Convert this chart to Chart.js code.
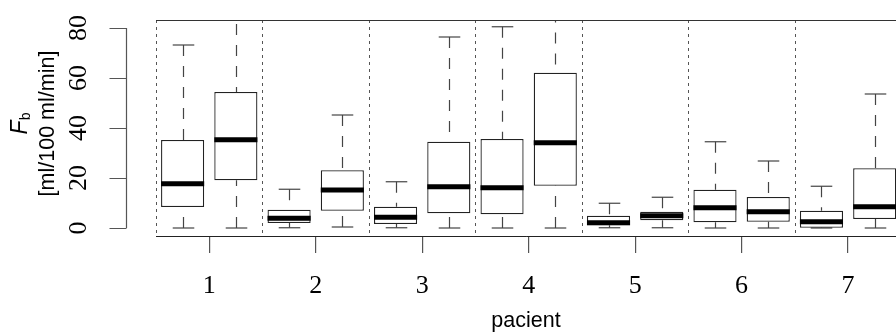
<!DOCTYPE html>
<html lang="en">
<head>
<meta charset="UTF-8">
<title>Fb podle pacienta</title>
<script src="https://cdn.jsdelivr.net/npm/chart.js"></script>
<style>
    html, body { margin: 0; padding: 0; background: #fff; overflow: hidden; }
</style>
</head>
<body>
<canvas id="fbChart" width="896" height="332"></canvas>
<script>
// two boxplots per patient, values in ml/100 ml/min
const patients    = ['1', '2', '3', '4', '5', '6', '7'];
const whiskerLow  = [0,    0,     0.1, 0.4,   0.1, 0,     0,    0,     0.1, 0.1,  0,    0,     0,    0];
const quartile1   = [8.4,  19.1,  2.0, 6.9,   1.6, 5.9,   5.5,  16.9,  1.1, 3.1,  2.3,  2.5,   0.1,  3.6];
const medians     = [17.7, 35.3,  3.9, 15.2,  4.3, 16.5,  16.1, 34.1,  2.1, 4.9,  8.1,  6.5,   2.5,  8.5];
const quartile3   = [35.2, 54.4,  7.3, 23.1,  8.5, 34.5,  35.6, 62.1,  4.9, 6.5,  15.3, 12.4,  6.9,  23.9];
const whiskerHigh = [73.2, 90,    15.5, 45.2, 18.5, 76.4, 80.5, 95,    9.9, 12.3, 34.5, 26.8,  16.7, 53.6];
const yTicks = [0, 20, 40, 60, 80];

const serif = '"Liberation Serif", "DejaVu Serif", serif';

// box i sits in the left or right half of its patient's slot
const boxData = quartile1.map((q1, i) => ({
    x: Math.floor(i / 2) + (i % 2 ? 0.75 : 0.25),
    y: [q1, quartile3[i]]
}));

const boxExtras = {
    id: 'boxExtras',
    beforeDatasetsDraw(chart) {
        const { ctx, chartArea: a, scales: { x, y } } = chart;
        ctx.save();
        // dotted separators between patients
        ctx.strokeStyle = '#555';
        ctx.lineWidth = 1;
        ctx.setLineDash([3, 4]);
        patients.forEach((p, k) => {
            const px = Math.round(x.getPixelForValue(k)) + 0.5;
            ctx.beginPath();
            ctx.moveTo(px, a.top);
            ctx.lineTo(px, a.bottom);
            ctx.stroke();
        });
        // whiskers, clipped to the plot
        ctx.beginPath();
        ctx.rect(a.left, a.top, a.right - a.left, a.bottom - a.top);
        ctx.clip();
        ctx.strokeStyle = '#444';
        ctx.lineWidth = 1.2;
        chart.getDatasetMeta(0).data.forEach((bar, i) => {
            const cx = Math.round(bar.x) + 0.5;
            const half = bar.width / 4;
            [[whiskerHigh[i], quartile3[i]], [whiskerLow[i], quartile1[i]]].forEach(([end, edge]) => {
                const yEnd = y.getPixelForValue(end);
                const yEdge = y.getPixelForValue(edge);
                ctx.setLineDash([11, 10]);
                ctx.beginPath();
                ctx.moveTo(cx, yEnd);
                ctx.lineTo(cx, yEdge);
                ctx.stroke();
                ctx.setLineDash([]);
                ctx.beginPath();
                ctx.moveTo(cx - half, yEnd);
                ctx.lineTo(cx + half, yEnd);
                ctx.stroke();
            });
        });
        ctx.restore();
    },
    afterDatasetsDraw(chart) {
        const { ctx, chartArea: a, scales: { y } } = chart;
        ctx.save();
        ctx.fillStyle = '#000';
        chart.getDatasetMeta(0).data.forEach((bar, i) => {
            const py = y.getPixelForValue(medians[i]);
            ctx.fillRect(bar.x - bar.width / 2, py - 2.5, bar.width, 5);
        });
        // top frame line
        ctx.strokeStyle = '#333';
        ctx.lineWidth = 1;
        ctx.beginPath();
        ctx.moveTo(a.left, a.top + 0.5);
        ctx.lineTo(a.right, a.top + 0.5);
        ctx.stroke();
        ctx.restore();
    },
    afterDraw(chart) {
        const { ctx, chartArea: a, scales: { y } } = chart;
        const axisX = a.left - 29.5;
        ctx.save();
        // y axis drawn away from the plot, R style
        ctx.strokeStyle = '#555';
        ctx.lineWidth = 1.2;
        ctx.beginPath();
        ctx.moveTo(axisX, y.getPixelForValue(yTicks[0]));
        ctx.lineTo(axisX, y.getPixelForValue(yTicks[yTicks.length - 1]));
        yTicks.forEach(v => {
            const py = Math.round(y.getPixelForValue(v)) + 0.5;
            ctx.moveTo(axisX, py);
            ctx.lineTo(axisX - 17, py);
        });
        ctx.stroke();

        ctx.fillStyle = '#000';
        ctx.textAlign = 'center';
        ctx.textBaseline = 'alphabetic';
        ctx.font = '26px ' + serif;
        yTicks.forEach(v => {
            ctx.save();
            ctx.translate(axisX - 41, y.getPixelForValue(v));
            ctx.rotate(-Math.PI / 2);
            ctx.fillText(String(v), 0, 0);
            ctx.restore();
        });

        // axis title: F_b [ml/100 ml/min]
        const midY = (y.getPixelForValue(0) + y.getPixelForValue(80)) / 2 - 4.5;
        ctx.save();
        ctx.translate(54, midY);
        ctx.rotate(-Math.PI / 2);
        ctx.font = '21.5px "Liberation Sans", Arial, sans-serif';
        ctx.fillText('[ml/100 ml/min]', 0, 0);
        ctx.restore();

        ctx.save();
        ctx.translate(26.5, midY);
        ctx.rotate(-Math.PI / 2);
        ctx.textAlign = 'left';
        ctx.font = 'italic 23px "Liberation Sans", Arial, sans-serif';
        const wF = ctx.measureText('F').width;
        ctx.font = '14px "Liberation Sans", Arial, sans-serif';
        const wb = ctx.measureText('b').width;
        const start = -(wF + wb) / 2;
        ctx.font = 'italic 23px "Liberation Sans", Arial, sans-serif';
        ctx.fillText('F', start, 0);
        ctx.font = '14px "Liberation Sans", Arial, sans-serif';
        ctx.fillText('b', start + wF, 3);
        ctx.restore();
        ctx.restore();
    }
};

new Chart(document.getElementById('fbChart'), {
    type: 'bar',
    data: {
        datasets: [{
            data: boxData,
            backgroundColor: '#fff',
            borderColor: '#222',
            borderWidth: 1.3,
            borderSkipped: false,
            categoryPercentage: 1,
            barPercentage: 0.81
        }]
    },
    options: {
        responsive: false,
        animation: false,
        events: [],
        layout: { padding: { left: 156, top: 20, right: 0, bottom: 0 } },
        plugins: { legend: { display: false }, tooltip: { enabled: false } },
        scales: {
            x: {
                type: 'linear',
                min: 0,
                max: 6.95,
                offset: false,
                afterBuildTicks: s => { s.ticks = patients.map((p, i) => ({ value: i + 0.5 })); },
                afterFit: s => { s.height = 96; },
                grid: { offset: false, drawOnChartArea: false, tickLength: 17, color: '#555', lineWidth: 1.2 },
                border: { display: true, color: '#222', width: 1 },
                ticks: {
                    autoSkip: false,
                    maxRotation: 0,
                    padding: 18,
                    color: '#000',
                    font: { family: serif, size: 26 },
                    callback: (v, i) => patients[i]
                },
                title: {
                    display: true,
                    text: 'pacient',
                    color: '#000',
                    padding: { top: 0, bottom: 0 },
                    font: { family: '"Liberation Sans", Arial, sans-serif', size: 21.5, lineHeight: 1 }
                }
            },
            y: {
                display: false,
                min: -3.2,
                max: 83.2
            }
        }
    },
    plugins: [boxExtras]
});
</script>
</body>
</html>
